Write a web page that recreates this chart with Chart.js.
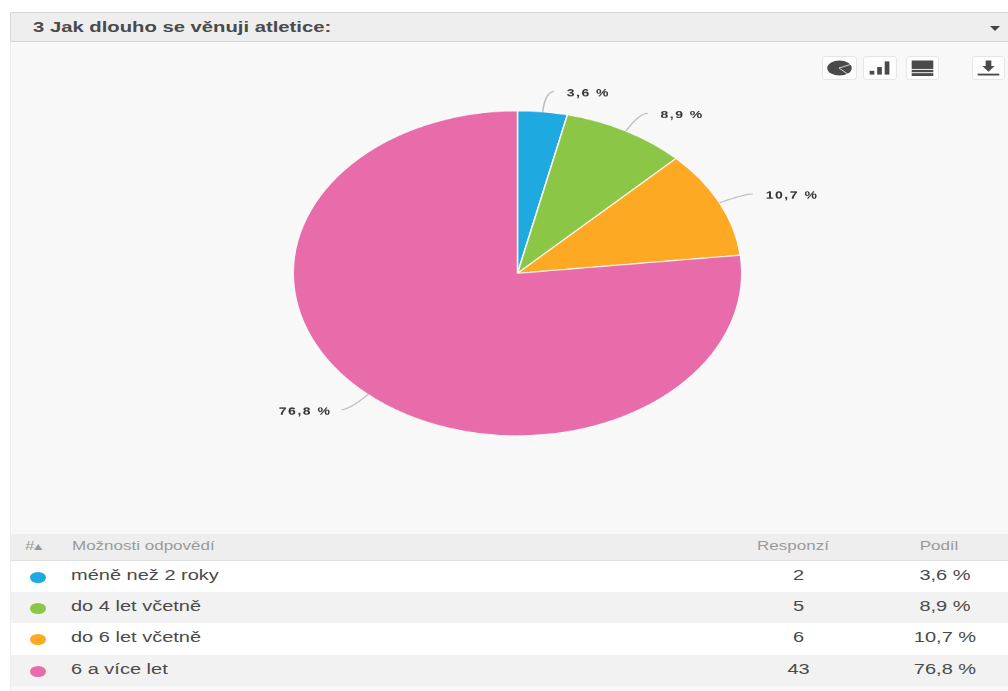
<!DOCTYPE html>
<html lang="cs">
<head>
<meta charset="utf-8">
<title>Jak dlouho se věnuji atletice</title>
<script src="https://cdn.jsdelivr.net/npm/chart.js@4/dist/chart.umd.min.js"></script>
<style>
html, body { margin: 0; padding: 0; background: #fff; }
body { width: 1008px; height: 691px; overflow: hidden; position: relative; font-family: "Liberation Sans", Arial, sans-serif; }
.abs { position: absolute; }
.sq { position: absolute; white-space: nowrap; transform: scaleY(0.725); transform-origin: left center; }
.center { transform: translateX(-50%) scaleY(0.725); transform-origin: center center; }
#panel { left: 10px; top: 42px; width: 998px; height: 649px; background: #f8f8f8; border-left: 1px solid #eeeeee; box-sizing: border-box; }
#header { left: 10px; top: 12px; width: 998px; height: 30px; background: #eeeeee; border: 1px solid #d6d6d6; border-right: 0; border-radius: 2px 0 0 2px; box-sizing: border-box; }
#title { left: 33px; top: 15px; line-height: 24px; font-size: 20.25px; font-weight: bold; color: #4a4a4a; }
#caret { left: 990px; top: 26px; width: 0; height: 0; border-left: 5px solid transparent; border-right: 5px solid transparent; border-top: 5px solid #444; }
#chart { left: 10px; top: 42px; transform: scaleY(0.725); transform-origin: left top; }
.btn { position: absolute; top: 56px; height: 24px; background: #fdfdfd; border: 1px solid #e6e6e6; border-radius: 3px; box-sizing: border-box; }
.btn svg { display: block; width: 100%; height: 100%; }
.head-row { left: 11px; top: 534px; width: 997px; height: 27px; background: #eeeeee; border-bottom: 1px solid #e0e0e0; box-sizing: border-box; }
.head { font-size: 17px; line-height: 20px; color: #9a9a9a; top: 536px; }
.row { left: 11px; width: 997px; }
.cell { font-size: 20px; line-height: 24px; color: #4a4a4a; }
.dot { position: absolute; left: 19px; width: 16px; height: 11px; border-radius: 50%; }
</style>
</head>
<body>
<div id="panel" class="abs"></div>
<div id="header" class="abs"></div>
<div id="title" class="sq">3 Jak dlouho se věnuji atletice:</div>
<div id="caret" class="abs"></div>

<div class="btn" style="left:822px;width:35px"><svg viewBox="0 0 35 22"><ellipse cx="17.5" cy="11" rx="13" ry="8" fill="#4a4a4a"/><path d="M17 11 L30 7 M17 11 L27 18" stroke="#fdfdfd" stroke-width="0.8"/></svg></div>
<div class="btn" style="left:863px;width:34px"><svg viewBox="0 0 34 22"><g fill="#4a4a4a"><rect x="6" y="14" width="5" height="4"/><rect x="14" y="10" width="5" height="8"/><rect x="22" y="4" width="5" height="14"/></g></svg></div>
<div class="btn" style="left:906px;width:33px"><svg viewBox="0 0 33 22"><g fill="#4a4a4a"><rect x="5" y="3" width="23" height="9"/><rect x="5" y="13" width="23" height="2.5"/><rect x="5" y="16.5" width="23" height="3"/></g></svg></div>
<div class="btn" style="left:972px;width:33px"><svg viewBox="0 0 33 22"><g fill="#4a4a4a"><path d="M16.5 15 L23 9 L19.5 9 L19.5 3 L13.5 3 L13.5 9 L10 9 Z"/><rect x="5" y="17" width="23" height="2"/></g></svg></div>

<canvas id="chart" class="abs" width="998" height="677"></canvas>

<div class="abs head-row"></div>
<div class="sq head" style="left:25px">#▴</div>
<div class="sq head" style="left:72px">Možnosti odpovědí</div>
<div class="sq head center" style="left:793px">Responzí</div>
<div class="sq head center" style="left:939px">Podíl</div>
<div id="rows"></div>

<script>
var categories = ["méně než 2 roky", "do 4 let včetně", "do 6 let včetně", "6 a více let"];
var responses = [2, 5, 6, 43];
var shareLabels = ["3,6 %", "8,9 %", "10,7 %", "76,8 %"];
var sliceColors = ["#1fa9e1", "#8bc646", "#fea923", "#e76ca9"];

var rowTops = [561, 592, 623, 655];
var rowHeights = [31, 31, 32, 31];
var rowBacks = ["#ffffff", "#f2f2f2", "#ffffff", "#f2f2f2"];

// table under the pie
var rows = document.getElementById("rows");
categories.forEach(function (name, i) {
    var mid = rowTops[i] + rowHeights[i] / 2;
    var html = '<div class="abs row" style="top:' + rowTops[i] + 'px;height:' + rowHeights[i] + 'px;background:' + rowBacks[i] + '">';
    html += '<span class="dot" style="top:' + (rowHeights[i] / 2 - 5) + 'px;background:' + sliceColors[i] + '"></span></div>';
    html += '<div class="sq cell" style="left:71px;top:' + (mid - 14) + 'px">' + name + '</div>';
    html += '<div class="sq cell center" style="left:798.5px;top:' + (mid - 14) + 'px">' + responses[i] + '</div>';
    html += '<div class="sq cell center" style="left:945px;top:' + (mid - 14) + 'px">' + shareLabels[i] + '</div>';
    rows.insertAdjacentHTML("beforeend", html);
});

// leader lines and percent labels around the pie
var leaderLabels = {
    id: "leaderLabels",
    afterDatasetsDraw: function (chart) {
        var ctx = chart.ctx;
        ctx.save();
        ctx.font = "bold 14px 'Liberation Sans', Arial, sans-serif";
        ctx.letterSpacing = "1.5px";
        ctx.fillStyle = "#333";
        ctx.textBaseline = "middle";
        chart.getDatasetMeta(0).data.forEach(function (arc, i) {
            var p = arc.getProps(["x", "y", "startAngle", "endAngle", "outerRadius"], true);
            var a = (p.startAngle + p.endAngle) / 2;
            var cos = Math.cos(a), sin = Math.sin(a);
            var side = cos >= 0 ? 1 : -1;
            var x0 = p.x + cos * p.outerRadius, y0 = p.y + sin * p.outerRadius;
            var x1 = p.x + cos * (p.outerRadius + 28), y1 = p.y + sin * (p.outerRadius + 28);
            ctx.beginPath();
            ctx.moveTo(x0, y0);
            ctx.quadraticCurveTo(x1, y1, x1 + side * 8, y1);
            ctx.strokeStyle = "#bdbdbd";
            ctx.lineWidth = 1.6;
            ctx.stroke();
            ctx.textAlign = side > 0 ? "left" : "right";
            ctx.fillText(shareLabels[i], x1 + (side > 0 ? 21 : -18), y1 + 3);
        });
        ctx.restore();
    }
};

new Chart(document.getElementById("chart"), {
    type: "pie",
    plugins: [leaderLabels],
    data: {
        labels: categories,
        datasets: [{
            data: responses,
            backgroundColor: sliceColors,
            borderColor: "#f8f8f8",
            borderWidth: 1.5
        }]
    },
    options: {
        responsive: false,
        animation: false,
        layout: { padding: { left: 17, right: 0, top: 94, bottom: 133 } },
        plugins: { legend: { display: false }, tooltip: { enabled: false } }
    }
});
</script>
</body>
</html>
